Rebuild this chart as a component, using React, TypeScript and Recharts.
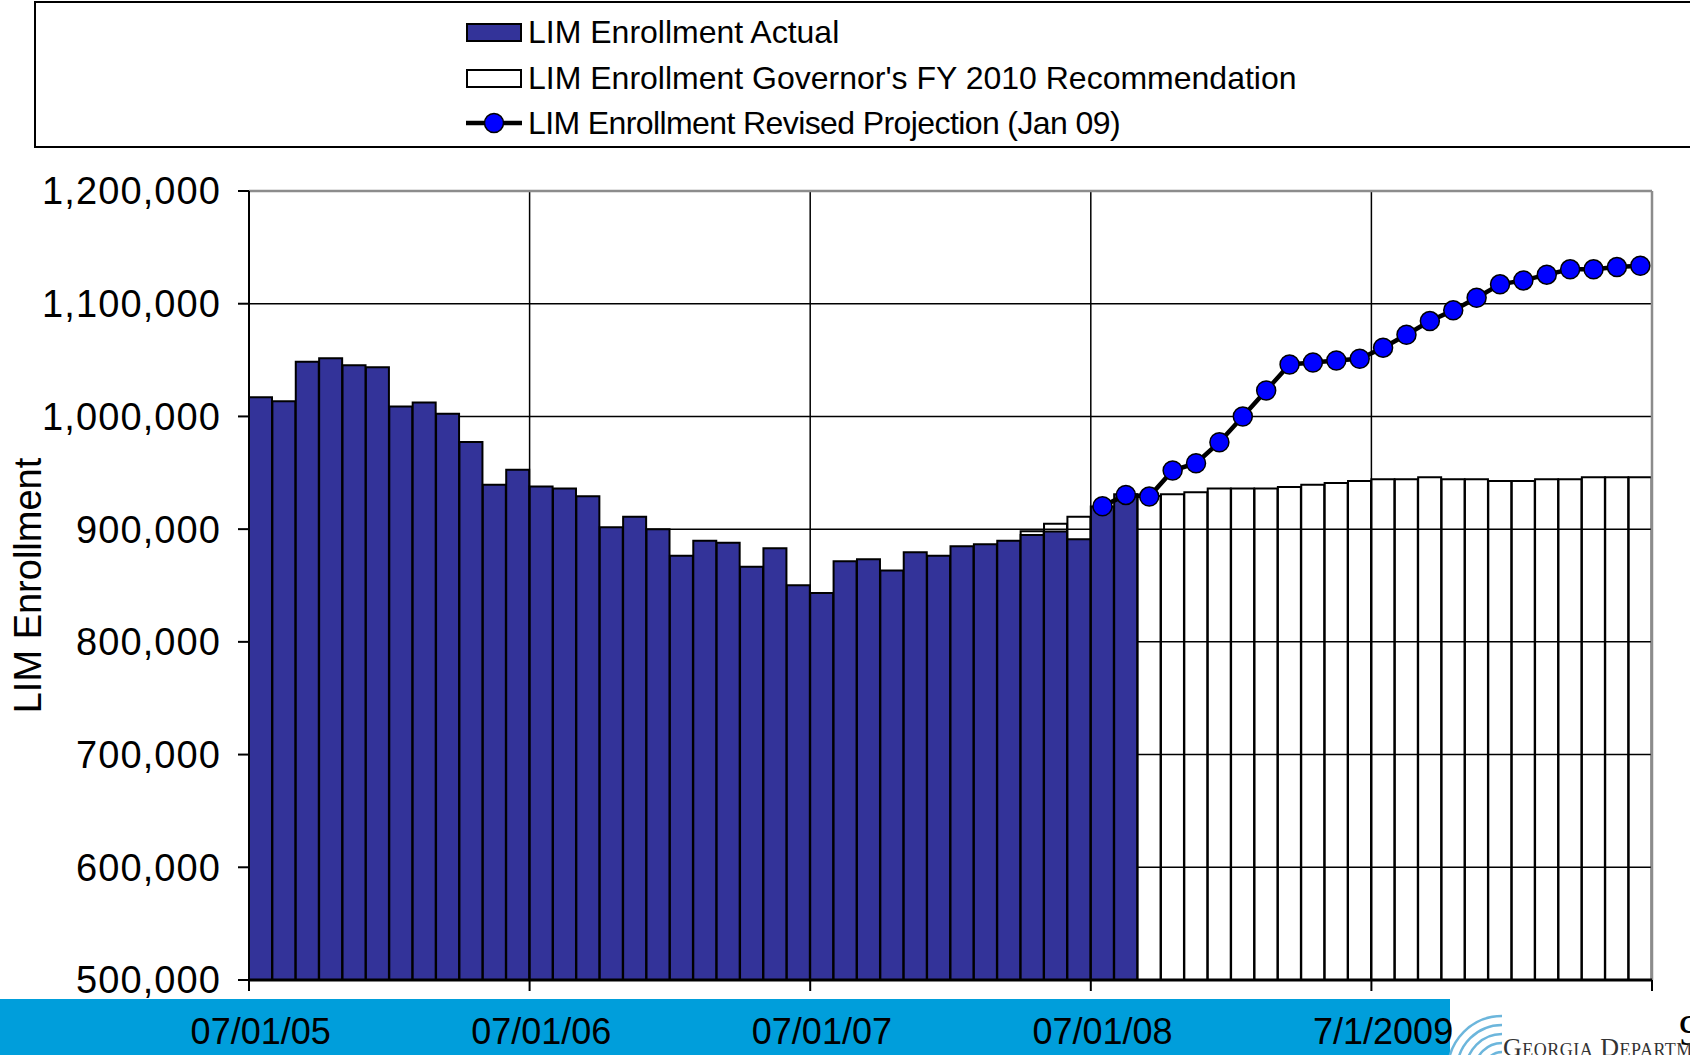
import {
  ComposedChart,
  Bar,
  Line,
  XAxis,
  YAxis,
  CartesianGrid,
  ReferenceLine,
} from "recharts";

const months = [
  "07/01/05", "08/01/05", "09/01/05", "10/01/05", "11/01/05", "12/01/05",
  "01/01/06", "02/01/06", "03/01/06", "04/01/06", "05/01/06", "06/01/06",
  "07/01/06", "08/01/06", "09/01/06", "10/01/06", "11/01/06", "12/01/06",
  "01/01/07", "02/01/07", "03/01/07", "04/01/07", "05/01/07", "06/01/07",
  "07/01/07", "08/01/07", "09/01/07", "10/01/07", "11/01/07", "12/01/07",
  "01/01/08", "02/01/08", "03/01/08", "04/01/08", "05/01/08", "06/01/08",
  "07/01/08", "08/01/08", "09/01/08", "10/01/08", "11/01/08", "12/01/08",
  "01/01/09", "02/01/09", "03/01/09", "04/01/09", "05/01/09", "06/01/09",
  "7/1/2009", "08/01/09", "09/01/09", "10/01/09", "11/01/09", "12/01/09",
  "01/01/10", "02/01/10", "03/01/10", "04/01/10", "05/01/10", "06/01/10",
];

const actual = [
  1017000, 1013500, 1048500, 1051700, 1045500, 1043700,
  1008800, 1012400, 1002300, 977400, 939300, 952600,
  937800, 936000, 929200, 901600, 911100, 899900,
  876500, 889800, 888000, 866700, 883000, 850200,
  843400, 871500, 873300, 863200, 879500, 876500,
  884800, 886600, 889800, 894900, 897800, 891000,
  920000, 931000, null, null, null, null,
  null, null, null, null, null, null,
  null, null, null, null, null, null,
  null, null, null, null, null, null,
];

const governorRec = [
  null, null, null, null, null, null,
  null, null, null, null, null, null,
  null, null, null, null, null, null,
  null, null, null, null, null, null,
  null, null, null, null, null, null,
  null, null, null, 898100, 904700, 911100,
  null, null, 929500, 931000, 932700, 936000,
  936000, 936000, 937500, 939300, 941000, 942800,
  944300, 944300, 946000, 944300, 944300, 942800,
  942800, 944300, 944300, 946000, 946000, 946000,
];

const revised = [
  null, null, null, null, null, null,
  null, null, null, null, null, null,
  null, null, null, null, null, null,
  null, null, null, null, null, null,
  null, null, null, null, null, null,
  null, null, null, null, null, null,
  920300, 930400, 928900, 952000, 958500, 977100,
  999900, 1023000, 1046100, 1047900, 1049600, 1051200,
  1061000, 1072500, 1084600, 1094100, 1105300, 1117200,
  1120700, 1125800, 1130500, 1130500, 1132500, 1133700,
];

const yearStarts = ["07/01/05", "07/01/06", "07/01/07", "07/01/08", "7/1/2009"];
const yTicks = [500000, 600000, 700000, 800000, 900000, 1000000, 1100000, 1200000];

const seriesNames = [
  "LIM Enrollment Actual",
  "LIM Enrollment Governor's FY 2010 Recommendation",
  "LIM Enrollment Revised Projection (Jan 09)",
];

const data = months.map((month, i) => ({
  month,
  actual: actual[i],
  rec: governorRec[i],
  revised: revised[i],
}));

const W = 1690;
const H = 1055;
const LEFT = 249;
const RIGHT = 38;
const BAND = (W - LEFT - RIGHT) / months.length;
const FONT = "'Liberation Sans', Arial, sans-serif";
const lastMonth = months[months.length - 1];

function MonthTick(props: any) {
  const { x, y, payload } = props;
  const half = typeof payload.offset === "number" && payload.offset > 0 ? payload.offset : BAND / 2;
  const label = payload.value;
  const isYear = yearStarts.includes(label);
  const isLast = label === lastMonth;
  return (
    <g>
      {isYear && (
        <line x1={x - half} x2={x - half} y1={y} y2={y + 11} stroke="#000" strokeWidth={2} />
      )}
      {isLast && (
        <line x1={x + half} x2={x + half} y1={y} y2={y + 11} stroke="#000" strokeWidth={2} />
      )}
      {isYear && (
        <text x={x} y={y + 64} textAnchor="middle" fontSize={36} fill="#000">
          {label}
        </text>
      )}
    </g>
  );
}

function LegendBox() {
  const rows = [32, 78, 123];
  const spacing = [0, 0, -0.6];
  return (
    <svg width={W} height={152} style={{ position: "absolute", left: 0, top: 0 }}>
      <rect x={35} y={2} width={1700} height={145} fill="#fff" stroke="#000" strokeWidth={2} />
      <rect x={467} y={rows[0] - 8} width={54} height={17} fill="#333399" stroke="#000" strokeWidth={2} />
      <rect x={467} y={rows[1] - 8} width={54} height={17} fill="#fff" stroke="#000" strokeWidth={2} />
      <line x1={466} x2={522} y1={rows[2]} y2={rows[2]} stroke="#000" strokeWidth={4.5} />
      <circle cx={494} cy={rows[2]} r={9.5} fill="#0000ff" stroke="#000" strokeWidth={1.5} />
      {seriesNames.map((name, i) => (
        <text
          key={name}
          x={528}
          y={rows[i]}
          dominantBaseline="central"
          fontSize={32}
          letterSpacing={spacing[i]}
          fill="#000"
          fontFamily={FONT}
        >
          {name}
        </text>
      ))}
    </svg>
  );
}

function Footer() {
  const arcs = [18, 27, 36, 45, 54];
  return (
    <>
      <div
        style={{
          position: "absolute",
          left: 0,
          top: 999,
          width: 1450,
          height: 56,
          background: "#009edb",
        }}
      />
      <svg width={260} height={80} style={{ position: "absolute", left: 1430, top: 975 }}>
        {arcs.map((r) => (
          <path
            key={r}
            d={`M ${72 - r} 95 A ${r} ${r} 0 0 1 ${72} ${95 - r}`}
            fill="none"
            stroke="#6cb6dc"
            strokeWidth={2.5}
          />
        ))}
        <text x={249} y={70} fontSize={44} fontFamily="'Liberation Serif', serif" fill="#000">
          9
        </text>
        <text
          x={73}
          y={81}
          fontSize={26}
          letterSpacing={0.5}
          fontFamily="'Liberation Serif', serif"
          fill="#333"
          style={{ fontVariant: "small-caps" }}
        >
          Georgia Department
        </text>
      </svg>
    </>
  );
}

export default function App() {
  return (
    <div
      style={{
        position: "absolute",
        left: 0,
        top: 0,
        width: W,
        height: H,
        overflow: "hidden",
        background: "#fff",
        fontFamily: FONT,
      }}
    >
      <Footer />
      <LegendBox />
      <div style={{ position: "absolute", left: 0, top: 0 }}>
        <ComposedChart
          width={W}
          height={H}
          data={data}
          margin={{ top: 191, right: RIGHT, bottom: 0, left: 0 }}
          barCategoryGap={0}
          barGap={0}
        >
          <CartesianGrid xAxisId="cat" vertical={false} stroke="#000" strokeWidth={1.5} />
          <XAxis
            xAxisId="cat"
            dataKey="month"
            interval={0}
            height={75}
            tickLine={false}
            tickSize={0}
            tickMargin={0}
            axisLine={{ stroke: "#000", strokeWidth: 3 }}
            tick={<MonthTick />}
          />
          <XAxis xAxisId="cat2" dataKey="month" hide height={0} />
          <YAxis
            domain={[500000, 1200000]}
            ticks={yTicks}
            interval={0}
            width={LEFT}
            tickFormatter={(v: number) => v.toLocaleString("en-US")}
            tick={{ fontSize: 38, fill: "#000", letterSpacing: 1.1 }}
            tickSize={11}
            tickMargin={17}
            tickLine={{ stroke: "#000", strokeWidth: 2 }}
            axisLine={{ stroke: "#000", strokeWidth: 2 }}
            label={{
              value: "LIM Enrollment",
              angle: -90,
              position: "insideLeft",
              offset: 28,
              style: { textAnchor: "middle", fontSize: 38, fill: "#000" },
            }}
          />
          <Bar
            xAxisId="cat2"
            dataKey="rec"
            name={seriesNames[1]}
            fill="none"
            stroke="#000"
            strokeWidth={2}
            isAnimationActive={false}
          />
          <Bar
            xAxisId="cat"
            dataKey="actual"
            name={seriesNames[0]}
            fill="#333399"
            stroke="#000"
            strokeWidth={2}
            isAnimationActive={false}
          />
          {yearStarts.slice(1).map((m) => (
            <ReferenceLine
              key={m}
              xAxisId="cat"
              x={m}
              position="start"
              stroke="#000"
              strokeWidth={1.5}
            />
          ))}
          <ReferenceLine xAxisId="cat" y={1200000} stroke="#8c8c8c" strokeWidth={2.5} />
          <ReferenceLine
            xAxisId="cat"
            x={lastMonth}
            position="end"
            stroke="#8c8c8c"
            strokeWidth={2.5}
          />
          <Line
            xAxisId="cat"
            dataKey="revised"
            name={seriesNames[2]}
            stroke="#000"
            strokeWidth={4.5}
            dot={{ r: 9.5, fill: "#0000ff", stroke: "#000", strokeWidth: 1.5 }}
            activeDot={false}
            isAnimationActive={false}
          />
        </ComposedChart>
      </div>
    </div>
  );
}
